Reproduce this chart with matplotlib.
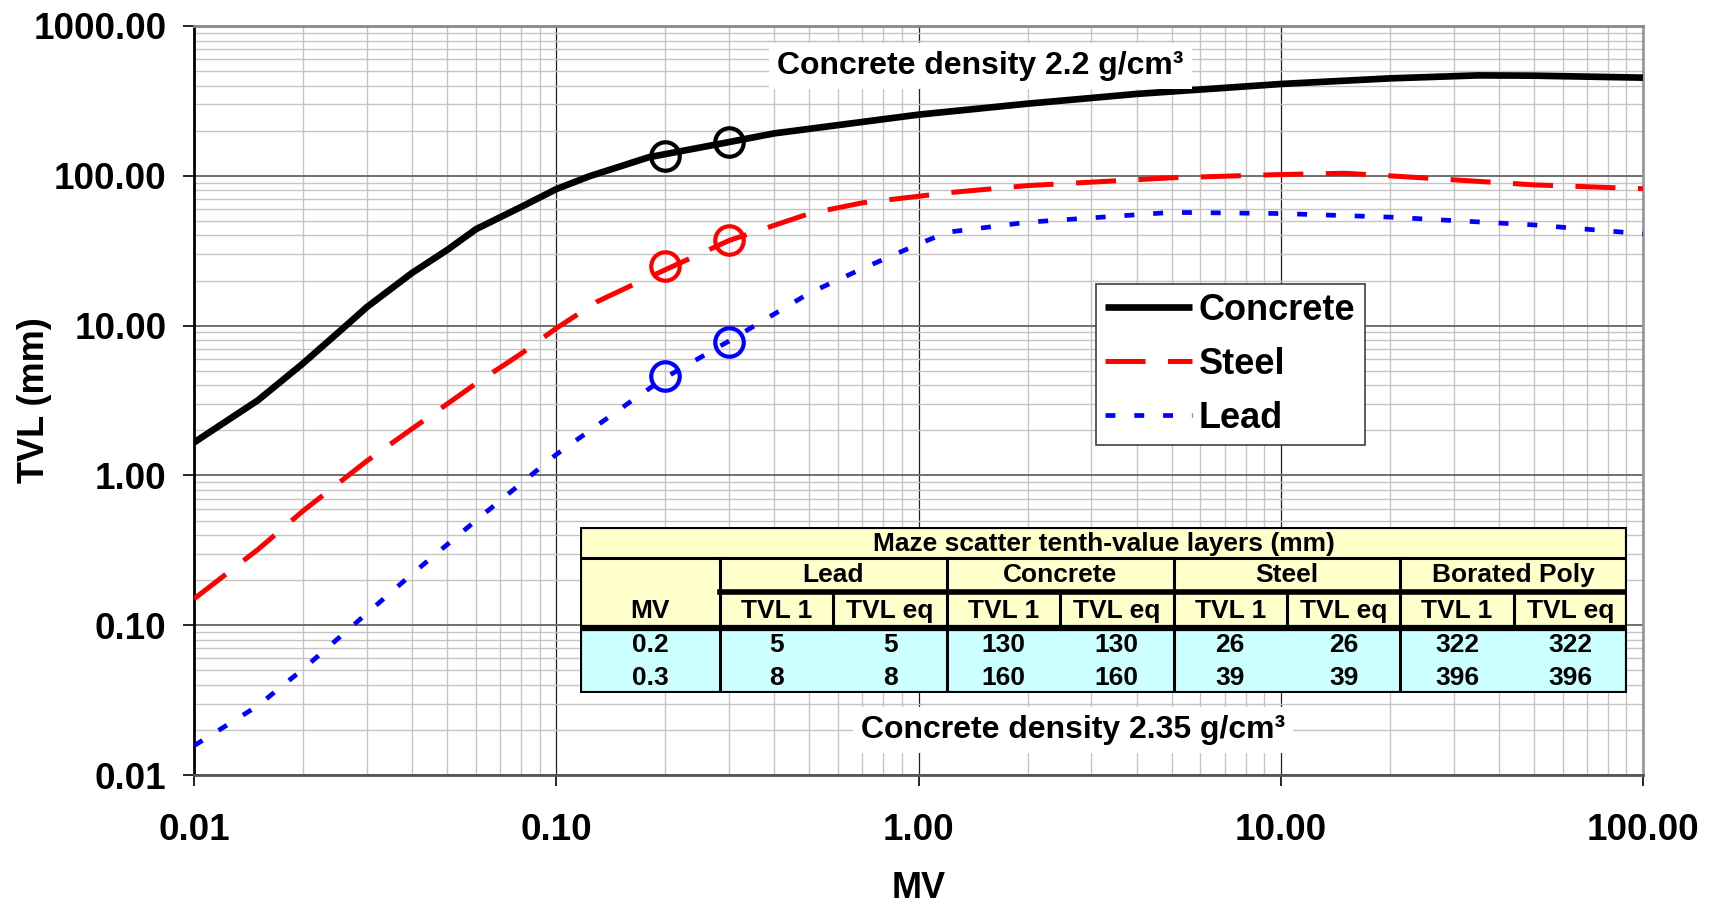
import matplotlib
matplotlib.use("Agg")
import matplotlib.pyplot as plt
from matplotlib.patches import Rectangle
from matplotlib.ticker import FixedLocator, FormatStrFormatter, LogLocator, NullFormatter

plt.rcParams["font.family"] = ["Liberation Sans", "DejaVu Sans"]
plt.rcParams["font.weight"] = "bold"

# --- curves (MV, TVL mm) ---
mv_concrete = [0.01, 0.015, 0.02, 0.0264, 0.03, 0.04, 0.05, 0.06, 0.08, 0.1, 0.123, 0.18,
               0.3, 0.4, 1.0, 2.0, 4.0, 10.0, 20.0, 35.0, 50.0, 100.0]
tvl_concrete = [1.66, 3.17, 5.6, 10.1, 13.3, 22.5, 32, 44, 62, 81.5, 99, 133,
                168, 192, 256, 303, 352, 410, 447, 468, 466, 452]

mv_steel = [0.01, 0.015, 0.02, 0.03, 0.04, 0.06, 0.08, 0.1, 0.13, 0.18, 0.3, 0.5, 0.7,
            1.0, 1.2, 2.0, 5.0, 10.0, 15.0, 20.0, 50.0, 100.0]
tvl_steel = [0.15, 0.32, 0.58, 1.25, 2.05, 4.1, 6.5, 9.6, 14.5, 21, 37, 56, 66,
             73, 77, 86, 97, 102, 104, 100, 87, 82]

mv_lead = [0.01, 0.015, 0.02, 0.03, 0.04, 0.06, 0.1, 0.166, 0.2, 0.3, 0.5, 0.7,
           1.0, 1.2, 2.0, 5.0, 10.0, 20.0, 50.0, 100.0]
tvl_lead = [0.0157, 0.029, 0.051, 0.12, 0.22, 0.5, 1.38, 3.3, 4.5, 7.9, 16.5, 24,
            35, 42, 49, 57, 56, 53, 47, 41]

# maze scatter points marked with circles
mv_marks = [0.2, 0.3]
mark_concrete = [135, 168]
mark_steel = [25, 37]
mark_lead = [4.6, 7.8]

# --- table ---
table_title = "Maze scatter tenth-value layers (mm)"
materials = ["Lead", "Concrete", "Steel", "Borated Poly"]
sub_cols = ["TVL 1", "TVL eq"]
table_mv = ["0.2", "0.3"]
table_rows = [
    [5, 5, 130, 130, 26, 26, 322, 322],
    [8, 8, 160, 160, 39, 39, 396, 396],
]

ticks = [0.01, 0.1, 1, 10, 100]
yticks = [0.01, 0.1, 1, 10, 100, 1000]

fig = plt.figure(figsize=(17.13, 9.09), dpi=100)
ax = fig.add_axes([0.1133, 0.1474, 0.8458, 0.824])

ax.set_xscale("log")
ax.set_yscale("log")
ax.set_xlim(0.01, 100)
ax.set_ylim(0.01, 1000)

ax.plot(mv_concrete, tvl_concrete, color="black", lw=4.8, solid_capstyle="butt",
        solid_joinstyle="round", label="Concrete", zorder=4)
ax.plot(mv_steel, tvl_steel, color="#ff0000", lw=3.6, dashes=(8, 4.5),
        label="Steel", zorder=4)
ax.plot(mv_lead, tvl_lead, color="#0000ff", lw=3.4, dashes=(2.1, 4.0),
        label="Lead", zorder=4)

for vals, c in [(mark_concrete, "black"), (mark_steel, "#ff0000"), (mark_lead, "#0000ff")]:
    ax.plot(mv_marks, vals, ls="none", marker="o", ms=20.5, mfc="none",
            mec=c, mew=3.0, zorder=5)

# grid
ax.xaxis.set_major_locator(FixedLocator(ticks))
ax.yaxis.set_major_locator(FixedLocator(yticks))
ax.xaxis.set_minor_locator(LogLocator(base=10, subs=range(2, 10), numticks=20))
ax.yaxis.set_minor_locator(LogLocator(base=10, subs=range(2, 10), numticks=20))
ax.xaxis.set_minor_formatter(NullFormatter())
ax.yaxis.set_minor_formatter(NullFormatter())
ax.xaxis.set_major_formatter(FormatStrFormatter("%.2f"))
ax.yaxis.set_major_formatter(FormatStrFormatter("%.2f"))
ax.grid(which="minor", color="#c4c4c4", lw=1.0)
ax.grid(which="major", axis="x", color="#202020", lw=0.9)
ax.grid(which="major", axis="y", color="#707070", lw=1.4)
ax.set_axisbelow(True)

ax.tick_params(which="major", direction="out", length=8, width=1.2, labelsize=26.5)
ax.tick_params(which="minor", length=0)
ax.tick_params(axis="y", pad=12)
ax.tick_params(axis="x", pad=19)
for lab in ax.get_xticklabels() + ax.get_yticklabels():
    lab.set_fontweight("bold")

ax.spines["left"].set_linewidth(2)
ax.spines["left"].set_color("black")
ax.spines["bottom"].set_linewidth(2)
ax.spines["bottom"].set_color("#555555")
ax.spines["top"].set_color("#888888")
ax.spines["top"].set_linewidth(2)
ax.spines["right"].set_color("#999999")
ax.spines["right"].set_linewidth(2)

ax.set_xlabel("MV", fontsize=26, fontweight="bold", labelpad=17)
ax.set_ylabel("TVL (mm)", fontsize=26, fontweight="bold")
ax.yaxis.set_label_coords(-0.098, 0.5)

leg = ax.legend(loc="upper left", bbox_to_anchor=(0.6225, 0.6555), borderaxespad=0,
                fontsize=26, handlelength=2.4, handletextpad=0.2, labelspacing=0.52,
                borderpad=0.25, fancybox=False, framealpha=1, edgecolor="#404040")
leg.get_frame().set_linewidth(1.2)
for t in leg.get_texts():
    t.set_fontweight("bold")

box = dict(boxstyle="square,pad=0.25", fc="white", ec="none")
ax.text(0.5428, 0.9465, "Concrete density 2.2 g/cm\u00b3", transform=ax.transAxes,
        ha="center", va="center", fontsize=23, fontweight="bold", bbox=box, zorder=6)
ax.text(0.6068, 0.0601, "Concrete density 2.35 g/cm\u00b3", transform=ax.transAxes,
        ha="center", va="center", fontsize=23, fontweight="bold", bbox=box, zorder=6)

# --- table drawn in its own axes (units ~ pixels) ---
tax = fig.add_axes([0.3386, 0.2376, 0.6112, 0.1826])
tax.set_xlim(0, 1047)
tax.set_ylim(166, 0)
tax.axis("off")

mv_w = 140
col_w = (1047 - mv_w) / (2 * len(materials))
y_title, y_group, y_sub, y_data = 0, 31, 65, 101
h_row = (166 - y_data) / len(table_rows)
yellow = "#ffffcc"
cyan = "#ccffff"

tax.add_patch(Rectangle((0, 0), 1047, y_data, fc=yellow, ec="none"))
tax.add_patch(Rectangle((0, y_data), 1047, 166 - y_data, fc=cyan, ec="none"))

fs = 19
tax.text(1047 / 2, (y_title + y_group) / 2 + 1, table_title, ha="center", va="center",
         fontsize=fs, fontweight="bold")
tax.text(mv_w / 2, (y_sub + y_data) / 2 + 1, "MV", ha="center", va="center",
         fontsize=fs, fontweight="bold")
for i, m in enumerate(materials):
    x0 = mv_w + 2 * i * col_w
    tax.text(x0 + col_w, (y_group + y_sub) / 2, m, ha="center", va="center",
             fontsize=fs, fontweight="bold")
    for j, s in enumerate(sub_cols):
        tax.text(x0 + (j + 0.5) * col_w, (y_sub + y_data) / 2 + 1, s, ha="center",
                 va="center", fontsize=fs, fontweight="bold")
for r, (mv, row) in enumerate(zip(table_mv, table_rows)):
    yc = y_data + (r + 0.5) * h_row + 1
    tax.text(mv_w / 2, yc, mv, ha="center", va="center", fontsize=fs, fontweight="bold")
    for k, v in enumerate(row):
        tax.text(mv_w + (k + 0.5) * col_w, yc, str(v), ha="center", va="center",
                 fontsize=fs, fontweight="bold")

# table rules
tax.plot([0, 1047], [y_group, y_group], color="black", lw=2.2)
tax.plot([mv_w, 1047], [y_sub, y_sub], color="black", lw=4.0)
tax.plot([0, 1047], [y_data, y_data], color="black", lw=4.5)
for i in range(len(materials)):
    x0 = mv_w + 2 * i * col_w
    tax.plot([x0, x0], [y_group, 166], color="black", lw=2.2)
    tax.plot([x0 + col_w, x0 + col_w], [y_sub, y_data], color="black", lw=2.2)
tax.add_patch(Rectangle((0, 0), 1047, 166, fc="none", ec="black", lw=3.0))

fig.savefig("out.png", dpi=100)
